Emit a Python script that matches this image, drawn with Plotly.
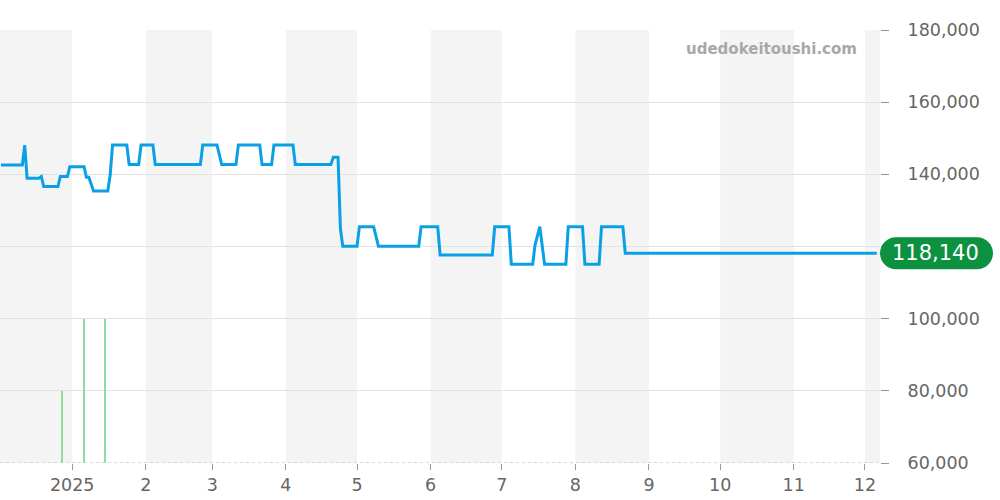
import plotly.graph_objects as go

# price series (date, JPY)
price_dates = [
    "2024-12-02", "2024-12-11", "2024-12-12", "2024-12-13", "2024-12-18", "2024-12-19",
    "2024-12-20", "2024-12-26", "2024-12-27", "2024-12-30", "2024-12-31",
    "2025-01-06", "2025-01-07", "2025-01-08", "2025-01-10", "2025-01-16", "2025-01-17",
    "2025-01-18", "2025-01-24", "2025-01-25", "2025-01-29", "2025-01-30",
    "2025-02-04", "2025-02-05", "2025-02-24", "2025-02-25", "2025-03-03", "2025-03-05",
    "2025-03-11", "2025-03-12", "2025-03-21", "2025-03-22", "2025-03-26", "2025-03-27",
    "2025-04-04", "2025-04-05", "2025-04-20", "2025-04-21", "2025-04-23", "2025-04-24",
    "2025-04-25", "2025-05-01", "2025-05-02", "2025-05-08", "2025-05-10", "2025-05-27",
    "2025-05-28", "2025-06-04", "2025-06-05", "2025-06-27", "2025-06-28", "2025-07-04",
    "2025-07-05", "2025-07-14", "2025-07-15", "2025-07-17", "2025-07-19", "2025-07-28",
    "2025-07-29", "2025-08-04", "2025-08-05", "2025-08-11", "2025-08-12", "2025-08-21",
    "2025-08-22", "2025-12-06",
]
price_values = [
    142600, 142600, 148100, 138900, 138900, 139400,
    136600, 136600, 139400, 139400, 142100,
    142100, 139200, 139200, 135400, 135400, 139800,
    148100, 148100, 142700, 142700, 148100,
    148100, 142700, 142700, 148100, 148100, 142700,
    142700, 148100, 148100, 142700, 142700, 148100,
    148100, 142700, 142700, 144700, 144700, 125000,
    120100, 120100, 125500, 125500, 120100, 120100,
    125500, 125500, 117650, 117650, 125500, 125500,
    115100, 115100, 120400, 125500, 115100, 115100,
    125500, 125500, 115100, 115100, 125500, 125500,
    118140, 118140,
]

# listing counts (secondary scale)
count_dates = ["2024-12-28", "2025-01-06", "2025-01-15"]
count_values = [1, 2, 2]

# axis ticks
tick_dates = ["2025-01-01", "2025-02-01", "2025-03-01", "2025-04-01", "2025-05-01", "2025-06-01",
              "2025-07-01", "2025-08-01", "2025-09-01", "2025-10-01", "2025-11-01", "2025-12-01"]
tick_labels = ["2025", "2", "3", "4", "5", "6", "7", "8", "9", "10", "11", "12"]
y_ticks = [60000, 80000, 100000, 120000, 140000, 160000, 180000]
y_tick_labels = ["60,000", "80,000", "100,000", "", "140,000", "160,000", "180,000"]

x_start = "2024-12-01 14:00"
x_end = "2025-12-07 08:00"
latest = price_values[-1]

# shaded months
shade_ranges = [
    (x_start, "2025-01-01"), ("2025-02-01", "2025-03-01"), ("2025-04-01", "2025-05-01"),
    ("2025-06-01", "2025-07-01"), ("2025-08-01", "2025-09-01"), ("2025-10-01", "2025-11-01"),
    ("2025-12-01", x_end),
]

fig = go.Figure()

fig.add_trace(go.Bar(
    x=count_dates, y=count_values, yaxis="y2",
    marker=dict(color="#8fdc9c", line=dict(width=0)),
    width=55_000_000, showlegend=False, hoverinfo="skip",
))

fig.add_trace(go.Scatter(
    x=price_dates, y=price_values, mode="lines",
    line=dict(color="#0aa0e6", width=3), showlegend=False,
))

shapes = []
for a, b in shade_ranges:
    shapes.append(dict(type="rect", xref="x", yref="paper", x0=a, x1=b, y0=0, y1=1,
                       fillcolor="#f4f4f4", line=dict(width=0), layer="below"))

shapes.append(dict(type="line", xref="paper", yref="y", x0=0, x1=0.997, y0=60000, y1=60000,
                   line=dict(color="#a6dfb0", width=1.5, dash="dot"), layer="above"))

# price pill
r = 16
w = 113
k = 8.84
pill = (f"M {r},{-r} L {w - r},{-r} C {w - r + k},{-r} {w},{-k} {w},0 "
        f"C {w},{k} {w - r + k},{r} {w - r},{r} L {r},{r} "
        f"C {r - k},{r} 0,{k} 0,0 C 0,{-k} {r - k},{-r} {r},{-r} Z")
shapes.append(dict(type="path", xref="paper", yref="y", xsizemode="pixel", ysizemode="pixel",
                   xanchor=1, yanchor=latest, path=pill,
                   fillcolor="#0b9140", line=dict(width=0), layer="above"))

fig.update_layout(
    width=1000, height=500,
    margin=dict(l=0, r=120, t=30, b=37),
    paper_bgcolor="white", plot_bgcolor="white",
    font=dict(family="DejaVu Sans", color="#666666"),
    shapes=shapes,
    bargap=0,
    xaxis=dict(
        type="date", range=[x_start, x_end],
        tickvals=tick_dates, ticktext=tick_labels,
        ticks="outside", ticklen=6, tickcolor="#999999",
        tickfont=dict(size=17.5, color="#666666"),
        showgrid=False, zeroline=False, showline=False,
    ),
    yaxis=dict(
        side="right", range=[60000, 180000], tickvals=y_ticks, ticktext=y_tick_labels,
        ticks="outside", ticklen=8, tickcolor="#999999",
        tickfont=dict(size=17.5, color="#666666"),
        showgrid=True, gridcolor="#e2e2e2", gridwidth=1, zeroline=False,
        ticklabelstandoff=15,
    ),
    yaxis2=dict(overlaying="y", range=[0, 6], visible=False, showgrid=False),
    annotations=[
        dict(xref="paper", yref="paper", x=0.877, y=0.955, xanchor="center", yanchor="middle",
             text="<b>udedokeitoushi.com</b>", showarrow=False,
             font=dict(size=15, color="#a8a8a8", family="DejaVu Sans")),
        dict(xref="paper", yref="y", x=1, y=latest, xshift=55, xanchor="center", yanchor="middle",
             text=f"{latest:,}", showarrow=False,
             font=dict(size=21, color="white", family="DejaVu Sans")),
    ],
)

fig.write_html("out.html", config={"displayModeBar": False},
               post_script="document.body.style.margin='0';")
